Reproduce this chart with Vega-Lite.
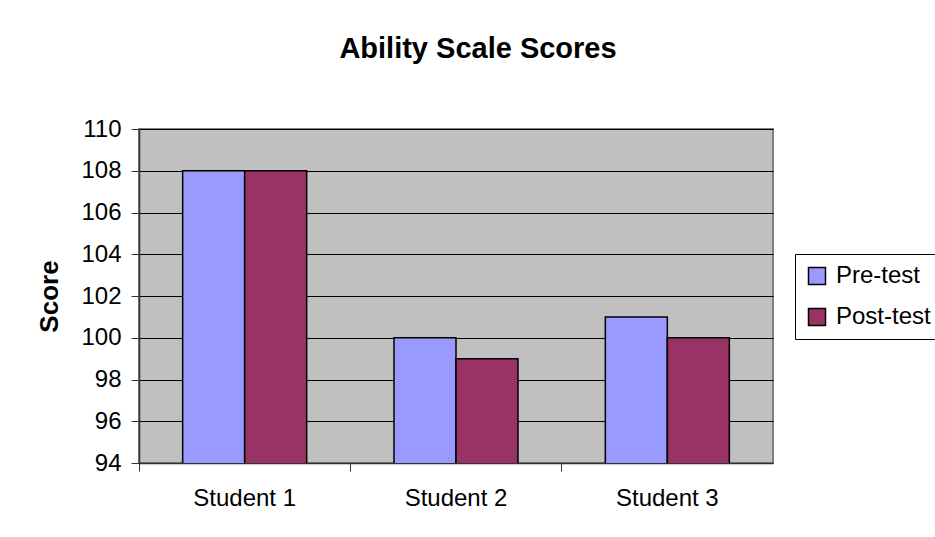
{
  "$schema": "https://vega.github.io/schema/vega-lite/v6.json",
  "autosize": "none",
  "padding": {"left": 139, "top": 129, "right": 162, "bottom": 74},
  "width": 634,
  "height": 334,
  "background": "white",
  "title": {
    "text": "Ability Scale Scores",
    "font": "Liberation Sans",
    "fontSize": 29,
    "fontWeight": "bold",
    "color": "black",
    "anchor": "middle",
    "baseline": "alphabetic",
    "dx": 22,
    "offset": 30
  },
  "data": {
    "values": [
      {"student": "Student 1", "test": "Pre-test", "score": 108},
      {"student": "Student 1", "test": "Post-test", "score": 108},
      {"student": "Student 2", "test": "Pre-test", "score": 100},
      {"student": "Student 2", "test": "Post-test", "score": 99},
      {"student": "Student 3", "test": "Pre-test", "score": 101},
      {"student": "Student 3", "test": "Post-test", "score": 100}
    ]
  },
  "mark": {"type": "bar", "stroke": "black", "strokeWidth": 1.5, "clip": true},
  "encoding": {
    "x": {
      "field": "student",
      "type": "nominal",
      "scale": {"paddingInner": 0, "paddingOuter": 0},
      "axis": {
        "title": null,
        "labelAngle": 0,
        "bandPosition": 0,
        "labelAlign": "center",
        "labelFont": "Liberation Sans",
        "labelFontSize": 24,
        "labelColor": "black",
        "labelPadding": 15,
        "tickSize": 8,
        "tickColor": "#333333",
        "domainColor": "#333333",
        "domainWidth": 1.5
      }
    },
    "xOffset": {
      "field": "test",
      "type": "nominal",
      "sort": ["Pre-test", "Post-test"],
      "scale": {"paddingInner": 0, "paddingOuter": 0.704}
    },
    "y": {
      "field": "score",
      "type": "quantitative",
      "scale": {"domain": [94, 110], "zero": false, "nice": false},
      "axis": {
        "title": "Score",
        "titleFont": "Liberation Sans",
        "titleFontSize": 26,
        "titleFontWeight": "bold",
        "titleColor": "black",
        "titlePadding": 18,
        "values": [94, 96, 98, 100, 102, 104, 106, 108, 110],
        "labelFont": "Liberation Sans",
        "labelFontSize": 24,
        "labelColor": "black",
        "labelPadding": 10,
        "tickSize": 8,
        "tickColor": "#333333",
        "domainColor": "#333333",
        "domainWidth": 1.5,
        "grid": true,
        "gridColor": "black",
        "gridWidth": 1
      }
    },
    "color": {
      "field": "test",
      "type": "nominal",
      "sort": ["Pre-test", "Post-test"],
      "scale": {"domain": ["Pre-test", "Post-test"], "range": ["#9999FF", "#993366"]},
      "legend": {
        "title": null,
        "orient": "none",
        "legendX": 656,
        "legendY": 125,
        "strokeColor": "black",
        "padding": 10,
        "symbolType": "square",
        "symbolSize": 289,
        "symbolStrokeColor": "black",
        "symbolStrokeWidth": 1.5,
        "symbolOpacity": 1,
        "labelFont": "Liberation Sans",
        "labelFontSize": 24,
        "labelColor": "black",
        "labelOffset": 7,
        "rowPadding": 17
      }
    }
  },
  "config": {
    "view": {"fill": "#C0C0C0", "stroke": "#808080", "strokeWidth": 2}
  }
}
